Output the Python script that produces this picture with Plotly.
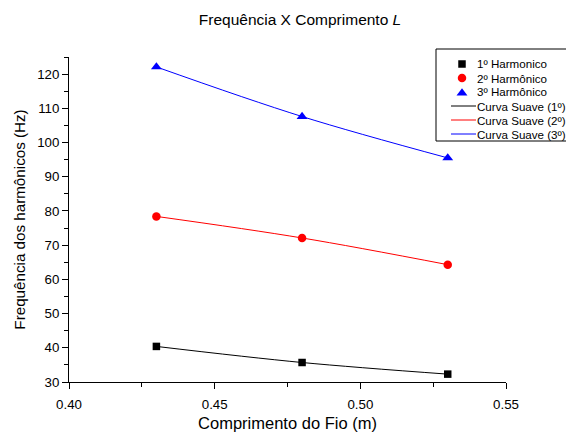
import plotly.graph_objects as go

comprimento = [0.43, 0.48, 0.53]
h1 = [40.4, 35.7, 32.3]
h2 = [78.4, 72.1, 64.3]
h3 = [122.1, 107.6, 95.5]

marker_names = ["1º Harmonico", "2º Harmônico", "3º Harmônico"]
curve_names = ["Curva Suave (1º)", "Curva Suave (2º)", "Curva Suave (3º)"]
colors = ["black", "red", "blue"]
symbols = ["square", "circle", "triangle-up"]
sizes = [7.5, 8.5, 9.5]
series = [h1, h2, h3]

# plot area in pixels (for placing the hand-built legend)
L, R, T, B = 69, 506, 57, 382
def px(x):
    return (x - L) / (R - L)
def py(y):
    return (B - y) / (B - T)

fig = go.Figure()
for name, ys, c in zip(curve_names, series, colors):
    fig.add_trace(go.Scatter(x=comprimento, y=ys, mode="lines", name=name,
                             line=dict(color=c, width=1, shape="spline"), showlegend=False))
for name, ys, c, s, sz in zip(marker_names, series, colors, symbols, sizes):
    fig.add_trace(go.Scatter(x=comprimento, y=ys, mode="markers", name=name,
                             marker=dict(color=c, symbol=s, size=sz), showlegend=False))

# legend (hand built to match compact row spacing)
row_y = [64, 78, 92, 106, 120, 134]
fig.add_shape(type="rect", xref="paper", yref="paper",
              x0=px(436), x1=px(620), y0=py(49), y1=py(141),
              line=dict(color="black", width=1), fillcolor="rgba(0,0,0,0)", layer="above")
for i, (c, s, sz) in enumerate(zip(colors, symbols, sizes)):
    fig.add_trace(go.Scatter(x=[px(462)], y=[py(row_y[i] + (1 if s == "triangle-up" else 0))],
                             xaxis="x2", yaxis="y2", mode="markers",
                             marker=dict(color=c, symbol=s, size=sz), showlegend=False,
                             cliponaxis=False, hoverinfo="skip"))
for i, c in enumerate(colors):
    yy = py(row_y[3 + i])
    fig.add_shape(type="line", xref="paper", yref="paper", x0=px(451), x1=px(476),
                  y0=yy, y1=yy, line=dict(color=c, width=1), layer="above")
for i, name in enumerate(marker_names + curve_names):
    fig.add_annotation(x=px(476), y=py(row_y[i]), xref="paper", yref="paper",
                       text=name, showarrow=False, xanchor="left", yanchor="middle",
                       borderpad=0, font=dict(size=11.6, color="black"))

axis_common = dict(showline=True, linecolor="black", linewidth=1, ticks="outside",
                   ticklen=6, tickcolor="black", showgrid=False, zeroline=False,
                   tickfont=dict(size=13.3, color="black"), mirror=False)

fig.update_layout(
    width=566, height=432,
    margin=dict(l=L, r=566 - R, t=T, b=432 - B, autoexpand=False),
    paper_bgcolor="white", plot_bgcolor="white",
    font=dict(family="Liberation Sans, Arial, sans-serif", color="black"),
    title=dict(text="Frequência X Comprimento <i>L</i>", x=300/566, xanchor="center",
               y=1 - 20/432, yanchor="middle", font=dict(size=15.5, color="black")),
    xaxis=dict(range=[0.40, 0.55], tickvals=[0.40, 0.45, 0.50, 0.55],
               ticktext=["0.40", "0.45", "0.50", "0.55"], ticklabelstandoff=4,
               minor=dict(ticks="outside", ticklen=4, dtick=0.025, tick0=0.4, tickcolor="black"),
               title=dict(text="Comprimento do Fio (m)", font=dict(size=16.5), standoff=8),
               **axis_common),
    yaxis=dict(range=[30, 125], tick0=30, dtick=10,
               minor=dict(ticks="outside", ticklen=4, dtick=5, tick0=30, tickcolor="black"),
               title=dict(text="Frequência dos harmônicos (Hz)", font=dict(size=15.2), standoff=7),
               **axis_common),
    xaxis2=dict(overlaying="x", range=[0, 1], visible=False, fixedrange=True),
    yaxis2=dict(overlaying="y", range=[0, 1], visible=False, fixedrange=True),
    showlegend=False,
)

fig.write_html("out.html")
